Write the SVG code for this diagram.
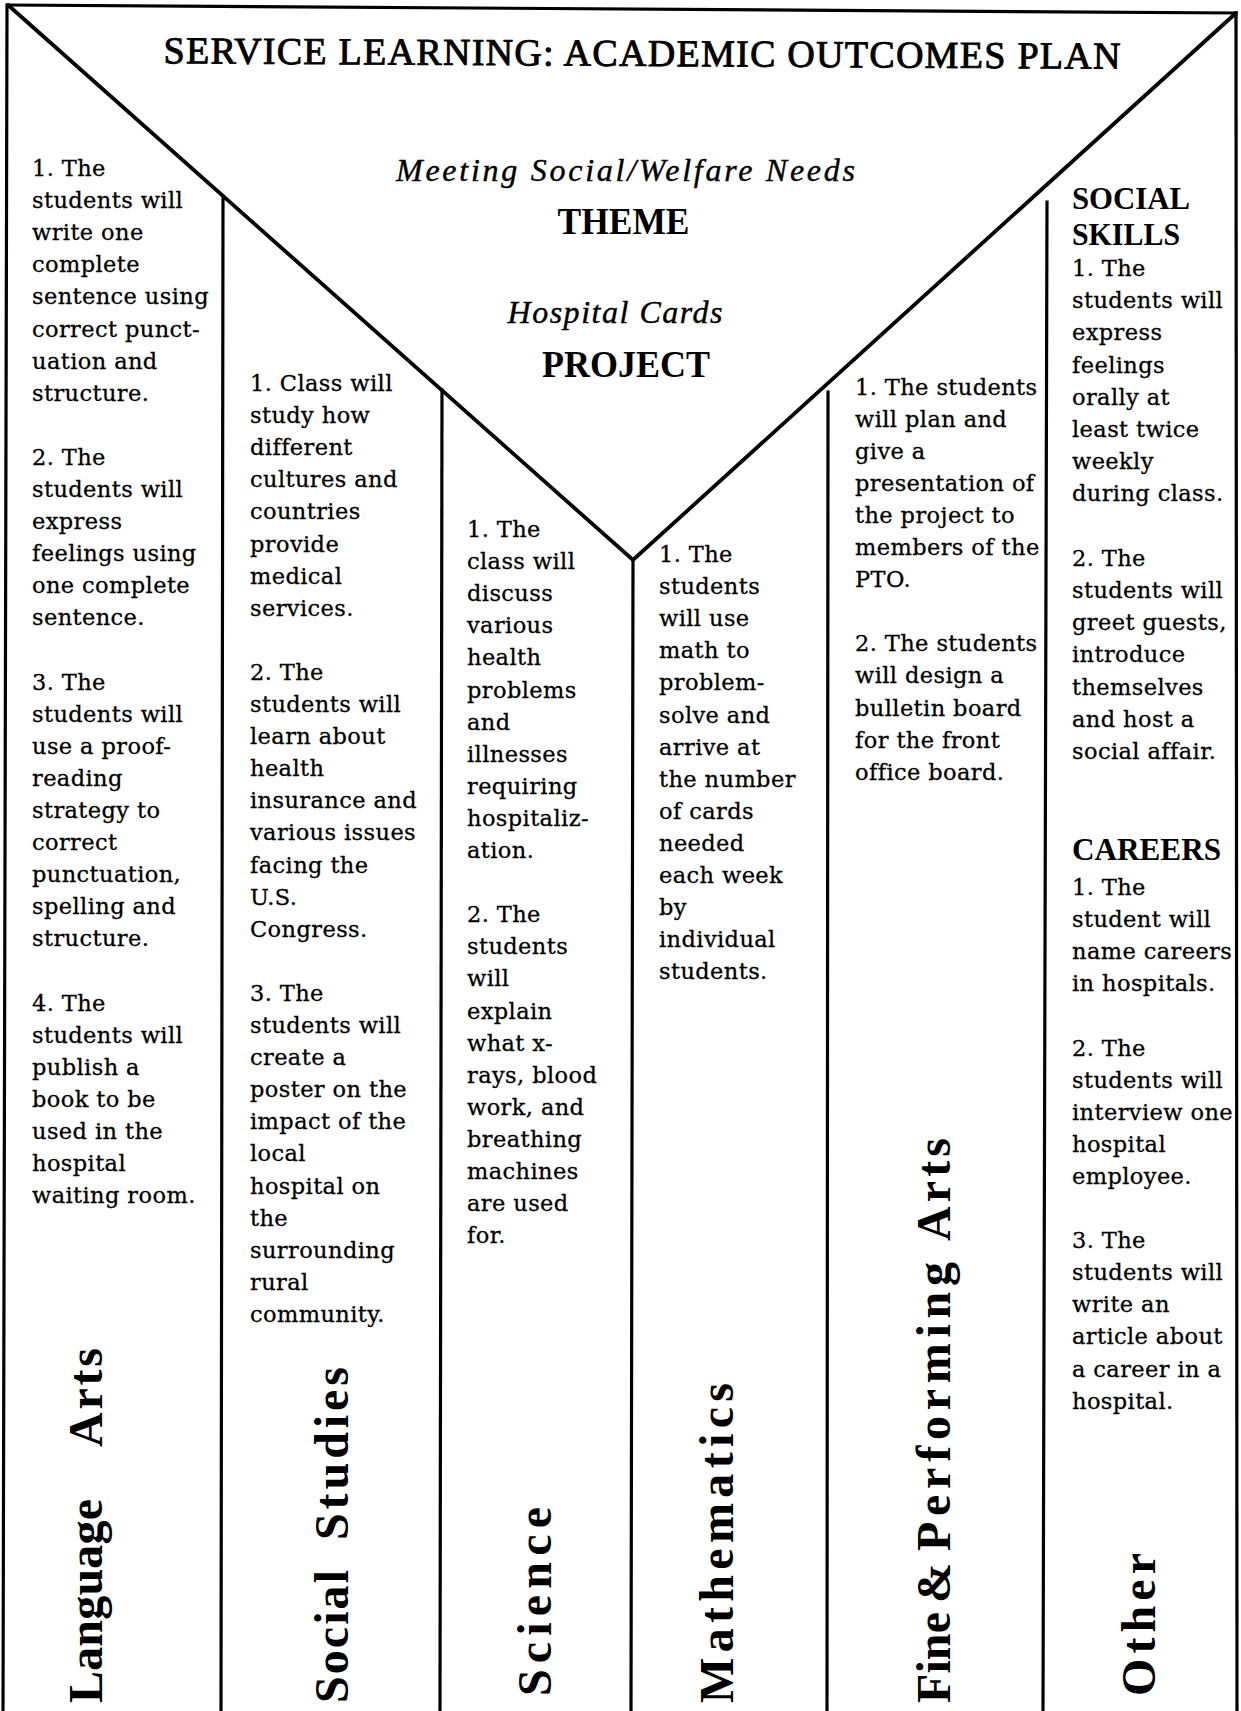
<svg xmlns="http://www.w3.org/2000/svg" width="1241" height="1711" viewBox="0 0 1241 1711">
<style>
.b{font-family:"DejaVu Serif","Liberation Serif",serif;font-size:22.5px;letter-spacing:0.4px;fill:#000;stroke:#000;stroke-width:0.3px}
.h{font-family:"Liberation Serif",serif;font-weight:bold;font-size:32px;fill:#000}
.lbl{font-family:"Liberation Serif",serif;font-weight:bold;font-size:48px;fill:#000}
.it{font-family:"Liberation Serif",serif;font-style:italic;font-size:32px;fill:#000;stroke:#000;stroke-width:0.4px}
.big{font-family:"Liberation Serif",serif;font-weight:bold;font-size:37px;fill:#000}
.ttl{font-family:"Liberation Serif",serif;font-size:38px;fill:#000;stroke:#000;stroke-width:0.9px}
.ln{stroke:#000;stroke-width:3.2;fill:none;stroke-linecap:square}
.dg{stroke:#000;stroke-width:3.8;fill:none;stroke-linecap:round}
</style>
<rect width="1241" height="1711" fill="#fff"/>
<g id="connectors">
<path class="ln" d="M8,5 L1236,13"/>
<path class="ln" d="M7,5 L3,1711"/>
<path class="ln" d="M1236,13 L1237,1711"/>
<path class="dg" d="M8,5 L633,560 L1236,13"/>
<path class="ln" d="M223,198 L221,1711"/>
<path class="ln" d="M442,390 L440,1711"/>
<path class="ln" d="M633,560 L631,1711"/>
<path class="ln" d="M828,392 L827,1711"/>
<path class="ln" d="M1047,202 L1043,1711"/>
</g>
<g id="title">
<text class="ttl" x="642" y="66" text-anchor="middle" textLength="957" lengthAdjust="spacing" transform="rotate(0.33 642 66)">SERVICE LEARNING: ACADEMIC OUTCOMES PLAN</text>
</g>
<g id="theme">
<text class="it" x="625.5" y="181" text-anchor="middle" textLength="459" lengthAdjust="spacing">Meeting Social/Welfare Needs</text>
<text class="big" x="623.5" y="234" text-anchor="middle" textLength="132" lengthAdjust="spacingAndGlyphs">THEME</text>
</g>
<g id="project">
<text class="it" x="615" y="323" text-anchor="middle" textLength="215" lengthAdjust="spacing">Hospital Cards</text>
<text class="big" x="626" y="377" text-anchor="middle" textLength="168" lengthAdjust="spacingAndGlyphs">PROJECT</text>
</g>
<g id="language-arts">
<text class="b">
<tspan x="32" y="176">1. The</tspan>
<tspan x="32" y="208.1">students will</tspan>
<tspan x="32" y="240.2">write one</tspan>
<tspan x="32" y="272.3">complete</tspan>
<tspan x="32" y="304.4">sentence using</tspan>
<tspan x="32" y="336.5">correct punct-</tspan>
<tspan x="32" y="368.6">uation and</tspan>
<tspan x="32" y="400.7">structure.</tspan>
<tspan x="32" y="464.9">2. The</tspan>
<tspan x="32" y="497">students will</tspan>
<tspan x="32" y="529.1">express</tspan>
<tspan x="32" y="561.2">feelings using</tspan>
<tspan x="32" y="593.3">one complete</tspan>
<tspan x="32" y="625.4">sentence.</tspan>
<tspan x="32" y="689.6">3. The</tspan>
<tspan x="32" y="721.7">students will</tspan>
<tspan x="32" y="753.8">use a proof-</tspan>
<tspan x="32" y="785.9">reading</tspan>
<tspan x="32" y="818">strategy to</tspan>
<tspan x="32" y="850.1">correct</tspan>
<tspan x="32" y="882.2">punctuation,</tspan>
<tspan x="32" y="914.3">spelling and</tspan>
<tspan x="32" y="946.4">structure.</tspan>
<tspan x="32" y="1010.6">4. The</tspan>
<tspan x="32" y="1042.7">students will</tspan>
<tspan x="32" y="1074.8">publish a</tspan>
<tspan x="32" y="1106.9">book to be</tspan>
<tspan x="32" y="1139">used in the</tspan>
<tspan x="32" y="1171.1">hospital</tspan>
<tspan x="32" y="1203.2">waiting room.</tspan>
</text>
<text class="lbl" transform="translate(101.7,1703) rotate(-90)" textLength="204" lengthAdjust="spacing">Language</text>
<text class="lbl" transform="translate(101.7,1447) rotate(-90)" textLength="99" lengthAdjust="spacing">Arts</text>
</g>
<g id="social-studies">
<text class="b">
<tspan x="250" y="391">1. Class will</tspan>
<tspan x="250" y="423.1">study how</tspan>
<tspan x="250" y="455.2">different</tspan>
<tspan x="250" y="487.3">cultures and</tspan>
<tspan x="250" y="519.4">countries</tspan>
<tspan x="250" y="551.5">provide</tspan>
<tspan x="250" y="583.6">medical</tspan>
<tspan x="250" y="615.7">services.</tspan>
<tspan x="250" y="679.9">2. The</tspan>
<tspan x="250" y="712">students will</tspan>
<tspan x="250" y="744.1">learn about</tspan>
<tspan x="250" y="776.2">health</tspan>
<tspan x="250" y="808.3">insurance and</tspan>
<tspan x="250" y="840.4">various issues</tspan>
<tspan x="250" y="872.5">facing the</tspan>
<tspan x="250" y="904.6">U.S.</tspan>
<tspan x="250" y="936.7">Congress.</tspan>
<tspan x="250" y="1000.9">3. The</tspan>
<tspan x="250" y="1033">students will</tspan>
<tspan x="250" y="1065.1">create a</tspan>
<tspan x="250" y="1097.2">poster on the</tspan>
<tspan x="250" y="1129.3">impact of the</tspan>
<tspan x="250" y="1161.4">local</tspan>
<tspan x="250" y="1193.5">hospital on</tspan>
<tspan x="250" y="1225.6">the</tspan>
<tspan x="250" y="1257.7">surrounding</tspan>
<tspan x="250" y="1289.8">rural</tspan>
<tspan x="250" y="1321.9">community.</tspan>
</text>
<text class="lbl" transform="translate(348,1703) rotate(-90)" textLength="133" lengthAdjust="spacing">Social</text>
<text class="lbl" transform="translate(348,1540) rotate(-90)" textLength="173" lengthAdjust="spacing">Studies</text>
</g>
<g id="science">
<text class="b">
<tspan x="467" y="537">1. The</tspan>
<tspan x="467" y="569.1">class will</tspan>
<tspan x="467" y="601.2">discuss</tspan>
<tspan x="467" y="633.3">various</tspan>
<tspan x="467" y="665.4">health</tspan>
<tspan x="467" y="697.5">problems</tspan>
<tspan x="467" y="729.6">and</tspan>
<tspan x="467" y="761.7">illnesses</tspan>
<tspan x="467" y="793.8">requiring</tspan>
<tspan x="467" y="825.9">hospitaliz-</tspan>
<tspan x="467" y="858">ation.</tspan>
<tspan x="467" y="922.2">2. The</tspan>
<tspan x="467" y="954.3">students</tspan>
<tspan x="467" y="986.4">will</tspan>
<tspan x="467" y="1018.5">explain</tspan>
<tspan x="467" y="1050.6">what x-</tspan>
<tspan x="467" y="1082.7">rays, blood</tspan>
<tspan x="467" y="1114.8">work, and</tspan>
<tspan x="467" y="1146.9">breathing</tspan>
<tspan x="467" y="1179">machines</tspan>
<tspan x="467" y="1211.1">are used</tspan>
<tspan x="467" y="1243.2">for.</tspan>
</text>
<text class="lbl" transform="translate(551,1696) rotate(-90)" textLength="189" lengthAdjust="spacing">Science</text>
</g>
<g id="mathematics">
<text class="b">
<tspan x="659" y="562">1. The</tspan>
<tspan x="659" y="594.1">students</tspan>
<tspan x="659" y="626.2">will use</tspan>
<tspan x="659" y="658.3">math to</tspan>
<tspan x="659" y="690.4">problem-</tspan>
<tspan x="659" y="722.5">solve and</tspan>
<tspan x="659" y="754.6">arrive at</tspan>
<tspan x="659" y="786.7">the number</tspan>
<tspan x="659" y="818.8">of cards</tspan>
<tspan x="659" y="850.9">needed</tspan>
<tspan x="659" y="883">each week</tspan>
<tspan x="659" y="915.1">by</tspan>
<tspan x="659" y="947.2">individual</tspan>
<tspan x="659" y="979.3">students.</tspan>
</text>
<text class="lbl" transform="translate(733,1703) rotate(-90)" textLength="320" lengthAdjust="spacing">Mathematics</text>
</g>
<g id="fine-performing-arts">
<text class="b">
<tspan x="855" y="395">1. The students</tspan>
<tspan x="855" y="427.05">will plan and</tspan>
<tspan x="855" y="459.1">give a</tspan>
<tspan x="855" y="491.15">presentation of</tspan>
<tspan x="855" y="523.2">the project to</tspan>
<tspan x="855" y="555.25">members of the</tspan>
<tspan x="855" y="587.3">PTO.</tspan>
<tspan x="855" y="651.4">2. The students</tspan>
<tspan x="855" y="683.45">will design a</tspan>
<tspan x="855" y="715.5">bulletin board</tspan>
<tspan x="855" y="747.55">for the front</tspan>
<tspan x="855" y="779.6">office board.</tspan>
</text>
<text class="lbl" transform="translate(950,1703) rotate(-90)" textLength="91" lengthAdjust="spacing">Fine</text>
<text class="lbl" transform="translate(950,1603) rotate(-90)">&amp;</text>
<text class="lbl" transform="translate(950,1551) rotate(-90)" textLength="289" lengthAdjust="spacing">Performing</text>
<text class="lbl" transform="translate(950,1241) rotate(-90)" textLength="103" lengthAdjust="spacing">Arts</text>
</g>
<g id="other">
<text class="h" x="1072" y="209" textLength="118" lengthAdjust="spacingAndGlyphs">SOCIAL</text>
<text class="h" x="1072" y="245" textLength="108" lengthAdjust="spacingAndGlyphs">SKILLS</text>
<text class="b">
<tspan x="1072" y="276">1. The</tspan>
<tspan x="1072" y="308.2">students will</tspan>
<tspan x="1072" y="340.4">express</tspan>
<tspan x="1072" y="372.6">feelings</tspan>
<tspan x="1072" y="404.8">orally at</tspan>
<tspan x="1072" y="437">least twice</tspan>
<tspan x="1072" y="469.2">weekly</tspan>
<tspan x="1072" y="501.4">during class.</tspan>
<tspan x="1072" y="565.8">2. The</tspan>
<tspan x="1072" y="598">students will</tspan>
<tspan x="1072" y="630.2">greet guests,</tspan>
<tspan x="1072" y="662.4">introduce</tspan>
<tspan x="1072" y="694.6">themselves</tspan>
<tspan x="1072" y="726.8">and host a</tspan>
<tspan x="1072" y="759">social affair.</tspan>
</text>
<text class="h" x="1072" y="860" textLength="149" lengthAdjust="spacingAndGlyphs">CAREERS</text>
<text class="b">
<tspan x="1072" y="895">1. The</tspan>
<tspan x="1072" y="927.1">student will</tspan>
<tspan x="1072" y="959.2">name careers</tspan>
<tspan x="1072" y="991.3">in hospitals.</tspan>
<tspan x="1072" y="1055.5">2. The</tspan>
<tspan x="1072" y="1087.6">students will</tspan>
<tspan x="1072" y="1119.7">interview one</tspan>
<tspan x="1072" y="1151.8">hospital</tspan>
<tspan x="1072" y="1183.9">employee.</tspan>
<tspan x="1072" y="1248.1">3. The</tspan>
<tspan x="1072" y="1280.2">students will</tspan>
<tspan x="1072" y="1312.3">write an</tspan>
<tspan x="1072" y="1344.4">article about</tspan>
<tspan x="1072" y="1376.5">a career in a</tspan>
<tspan x="1072" y="1408.6">hospital.</tspan>
</text>
<text class="lbl" transform="translate(1155,1696) rotate(-90)" textLength="143" lengthAdjust="spacing">Other</text>
</g>
</svg>
